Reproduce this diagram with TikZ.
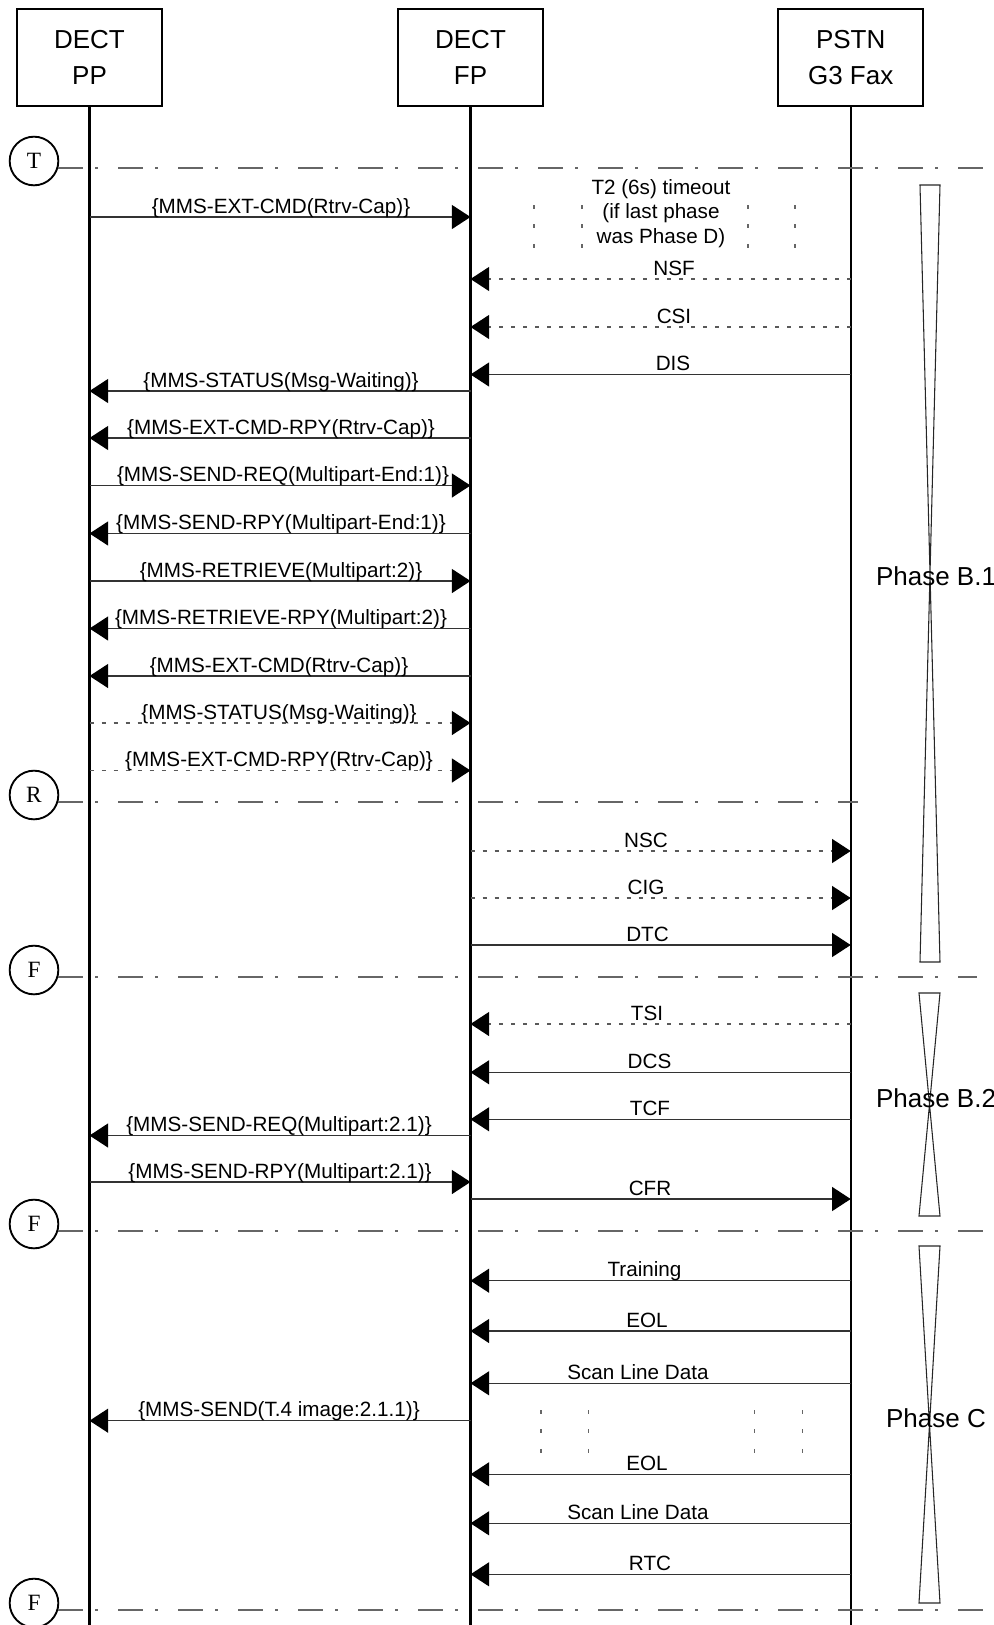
\documentclass[tikz,border=0pt]{standalone}
\usepackage{fontspec}
\setmainfont{Liberation Sans}
\newfontfamily\circfont{Liberation Serif}
\usetikzlibrary{arrows.meta}

\tikzset{
  headbox/.style={draw, line width=1.5pt, minimum width=108.75pt, minimum height=72.4pt,
    align=center, font=\fontsize{19.5}{27}\selectfont, inner sep=0pt, outer sep=0pt},
  life/.style={line width=1.7pt},
  msg/.style={line width=1.1pt, draw=black!80, -{Triangle[length=14pt,width=18pt,color=black]}},
  dmsg/.style={msg, dash pattern=on 3pt off 6pt, draw=black!65},
  lbl/.style={font=\fontsize{15.5}{18.4}\selectfont, anchor=base, inner sep=0pt},
  sep/.style={line width=1.2pt, draw=black!60, dash pattern=on 18.75pt off 9pt on 2.25pt off 15pt},
  circmark/.style={circle, draw, line width=1.4pt, minimum size=36.5pt, inner sep=0pt,
    font=\circfont\fontsize{17.5}{17.5}\selectfont},
  phase/.style={font=\fontsize{19.5}{24}\selectfont, anchor=base, inner sep=0pt},
  glass/.style={line width=0.8pt, draw=black!85},
  tick/.style={line width=0.8pt, draw=black!60, dash pattern=on 3pt off 11.6pt},
}

% #1 style, #2 from, #3 to, #4 y, #5 label x, #6 label name, #7 text
\newcommand\msgline[7]{%
  \draw[#1] (#2.south |- 0,#4) -- (#3.south |- 0,#4);
  \node[lbl] (#6) at (#5,{#4-4}) {#7};
}

\begin{document}
\begin{tikzpicture}[x=0.75pt,y=-0.75pt]
\useasboundingbox (0,0) rectangle (993,1625);

% header boxes
\node[headbox] (pp) at (89.5,57.5) {DECT\\PP};
\node[headbox] (fp) at (470.5,57.5) {DECT\\FP};
\node[headbox] (pstn) at (850.7,57.5) {PSTN\\G3 Fax};

% lifelines
\draw[life] (pp.south) -- (pp.south |- 0,1625);
\draw[life] (fp.south) -- (fp.south |- 0,1625);
\draw[life] (pstn.south) -- (pstn.south |- 0,1625);

% separators
\node[circmark] (cT) at (34,161) {T};
\draw[sep] (cT.-16.6) -- (cT.-16.6 -| 993,0);
\node[circmark] (cR) at (34,795) {R};
\draw[sep] (cR.-16.6) -- (cR.-16.6 -| 858,0);
\node[circmark] (cF1) at (34,970) {F};
\draw[sep] (cF1.-16.6) -- (cF1.-16.6 -| 977,0);
\node[circmark] (cF2) at (34,1224) {F};
\draw[sep] (cF2.-16.6) -- (cF2.-16.6 -| 993,0);
\node[circmark] (cF3) at (34,1603) {F};
\draw[sep] (cF3.-16.6) -- (cF3.-16.6 -| 993,0);

% phase hourglasses
\draw[glass] (920,185) -- (940,185) -- (920,962) -- (940,962) -- cycle;
\draw[glass] (919,993) -- (940,993) -- (919,1216) -- (940,1216) -- cycle;
\draw[glass] (919,1246) -- (940,1246) -- (919,1603) -- (940,1603) -- cycle;
\node[phase] (pB1) at (936,585) {Phase B.1};
\node[phase] (pB2) at (936,1107) {Phase B.2};
\node[phase] (pC) at (936,1427) {Phase C};

% T2 timeout note
\node[lbl] (t2a) at (661,194.3) {T2 (6s) timeout};
\node[lbl] (t2b) at (661,218.7) {(if last phase};
\node[lbl] (t2c) at (661,243.3) {was Phase D)};
\foreach \x in {534,582,748,795} \draw[tick] (\x,205) -- (\x,248);
\foreach \x in {541,588.5,754.7,802.5} \draw[tick] (\x,1410) -- (\x,1453);

% messages
\msgline{msg}{pp}{fp}{217}{281}{m1}{\{MMS-EXT-CMD(Rtrv-Cap)\}}
\msgline{dmsg}{pstn}{fp}{279}{674}{m2}{NSF}
\msgline{dmsg}{pstn}{fp}{327}{674}{m3}{CSI}
\msgline{msg}{pstn}{fp}{374.5}{673}{m4}{DIS}
\msgline{msg}{fp}{pp}{391}{281}{m5}{\{MMS-STATUS(Msg-Waiting)\}}
\msgline{msg}{fp}{pp}{438}{281}{m6}{\{MMS-EXT-CMD-RPY(Rtrv-Cap)\}}
\msgline{msg}{pp}{fp}{485.5}{283}{m7}{\{MMS-SEND-REQ(Multipart-End:1)\}}
\msgline{msg}{fp}{pp}{533.5}{281}{m8}{\{MMS-SEND-RPY(Multipart-End:1)\}}
\msgline{msg}{pp}{fp}{581}{281}{m9}{\{MMS-RETRIEVE(Multipart:2)\}}
\msgline{msg}{fp}{pp}{628.5}{281}{m10}{\{MMS-RETRIEVE-RPY(Multipart:2)\}}
\msgline{msg}{fp}{pp}{676}{279}{m11}{\{MMS-EXT-CMD(Rtrv-Cap)\}}
\msgline{dmsg}{pp}{fp}{723}{279}{m12}{\{MMS-STATUS(Msg-Waiting)\}}
\msgline{dmsg}{pp}{fp}{770.5}{279}{m13}{\{MMS-EXT-CMD-RPY(Rtrv-Cap)\}}
\msgline{dmsg}{fp}{pstn}{851}{646}{m14}{NSC}
\msgline{dmsg}{fp}{pstn}{898}{646}{m15}{CIG}
\msgline{msg}{fp}{pstn}{945}{647.5}{m16}{DTC}
\msgline{dmsg}{pstn}{fp}{1024}{647}{m17}{TSI}
\msgline{msg}{pstn}{fp}{1072.3}{649.5}{m18}{DCS}
\msgline{msg}{pstn}{fp}{1119.3}{650}{m19}{TCF}
\msgline{msg}{fp}{pp}{1135.5}{279}{m20}{\{MMS-SEND-REQ(Multipart:2.1)\}}
\msgline{msg}{pp}{fp}{1182}{280}{m21}{\{MMS-SEND-RPY(Multipart:2.1)\}}
\msgline{msg}{fp}{pstn}{1199}{650}{m22}{CFR}
\msgline{msg}{pstn}{fp}{1280.7}{644.5}{m23}{Training}
\msgline{msg}{pstn}{fp}{1331}{647}{m24}{EOL}
\msgline{msg}{pstn}{fp}{1383.3}{638}{m25}{Scan Line Data}
\msgline{msg}{fp}{pp}{1420.7}{279}{m26}{\{MMS-SEND(T.4 image:2.1.1)\}}
\msgline{msg}{pstn}{fp}{1474.3}{647}{m27}{EOL}
\msgline{msg}{pstn}{fp}{1523.3}{638}{m28}{Scan Line Data}
\msgline{msg}{pstn}{fp}{1574.3}{650}{m29}{RTC}
\end{tikzpicture}
\end{document}
